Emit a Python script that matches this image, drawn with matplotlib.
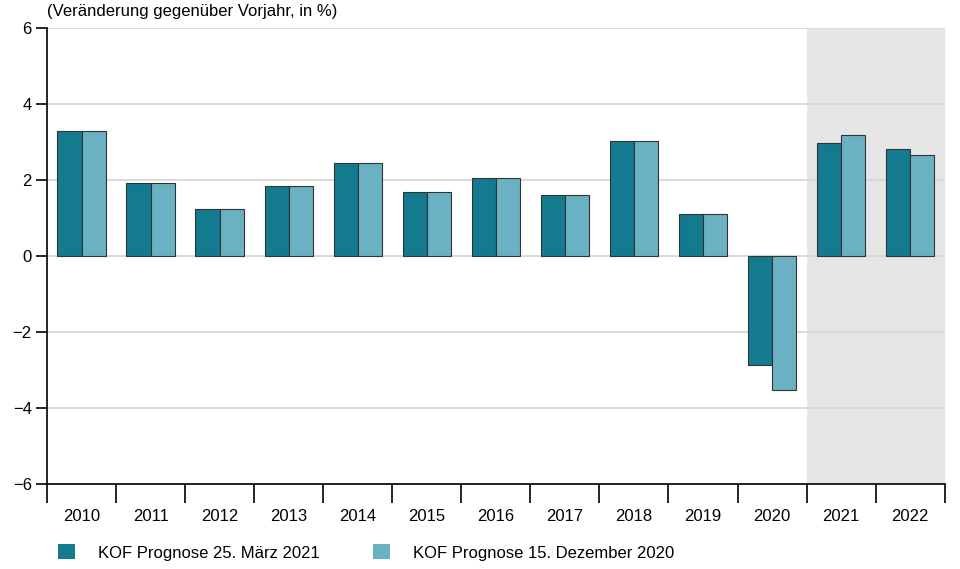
import matplotlib.pyplot as plt
import numpy as np

plt.rcParams['font.family'] = ['Liberation Sans', 'DejaVu Sans']

years = ['2010', '2011', '2012', '2013', '2014', '2015', '2016',
         '2017', '2018', '2019', '2020', '2021', '2022']
prognose_maerz = [3.28, 1.92, 1.23, 1.83, 2.46, 1.68, 2.05, 1.60, 3.02, 1.10, -2.87, 2.98, 2.82]
prognose_dez = [3.28, 1.92, 1.23, 1.83, 2.46, 1.68, 2.05, 1.60, 3.02, 1.10, -3.53, 3.19, 2.65]

dark = '#137a8f'
light = '#6ab2c3'

fig = plt.figure(figsize=(9.6, 5.69), dpi=100)
ax = fig.add_axes([0.049, 0.149, 0.935, 0.802])

x = np.arange(len(years))
w = 0.35
# forecast years shaded
ax.axvspan(10.5, 12.5, color='#e6e6e6', zorder=0, lw=0)
ax.bar(x - w / 2, prognose_maerz, w, color=dark, edgecolor='#333333', linewidth=0.8, zorder=3,
       label='KOF Prognose 25. März 2021')
ax.bar(x + w / 2, prognose_dez, w, color=light, edgecolor='#333333', linewidth=0.8, zorder=3,
       label='KOF Prognose 15. Dezember 2020')

ax.set_xlim(-0.5, 12.5)
ax.set_ylim(-6, 6)
ax.set_yticks([-6, -4, -2, 0, 2, 4, 6])
ax.set_yticklabels(['\u22126', '\u22124', '\u22122', '0', '2', '4', '6'])
ax.grid(axis='y', color='#d4d4d4', linewidth=1.2, zorder=1)

ax.set_xticks(x)
ax.set_xticklabels(years)
ax.set_xticks(np.arange(-0.5, 13, 1), minor=True)
ax.tick_params(axis='x', which='major', length=0, pad=18, labelsize=12)
ax.tick_params(axis='x', which='minor', length=14, width=1.2, direction='out')
ax.tick_params(axis='y', length=8, width=1.2, direction='out', labelsize=12, pad=3)

for s in ['top', 'right']:
    ax.spines[s].set_visible(False)
ax.spines['left'].set_linewidth(1.2)
ax.spines['bottom'].set_linewidth(1.2)

fig.text(0.049, 0.979, '(Veränderung gegenüber Vorjahr, in %)', fontsize=12, va='center', ha='left')

leg = fig.legend(loc='center left', bbox_to_anchor=(0.0604, 0.029), ncol=2, frameon=False,
                 fontsize=12, handlelength=1.0, handleheight=1.0, columnspacing=3.2,
                 handletextpad=1.4, borderpad=0, borderaxespad=0)
for h in leg.legend_handles:
    h.set_edgecolor('none')

fig.savefig('out.png', dpi=100)
